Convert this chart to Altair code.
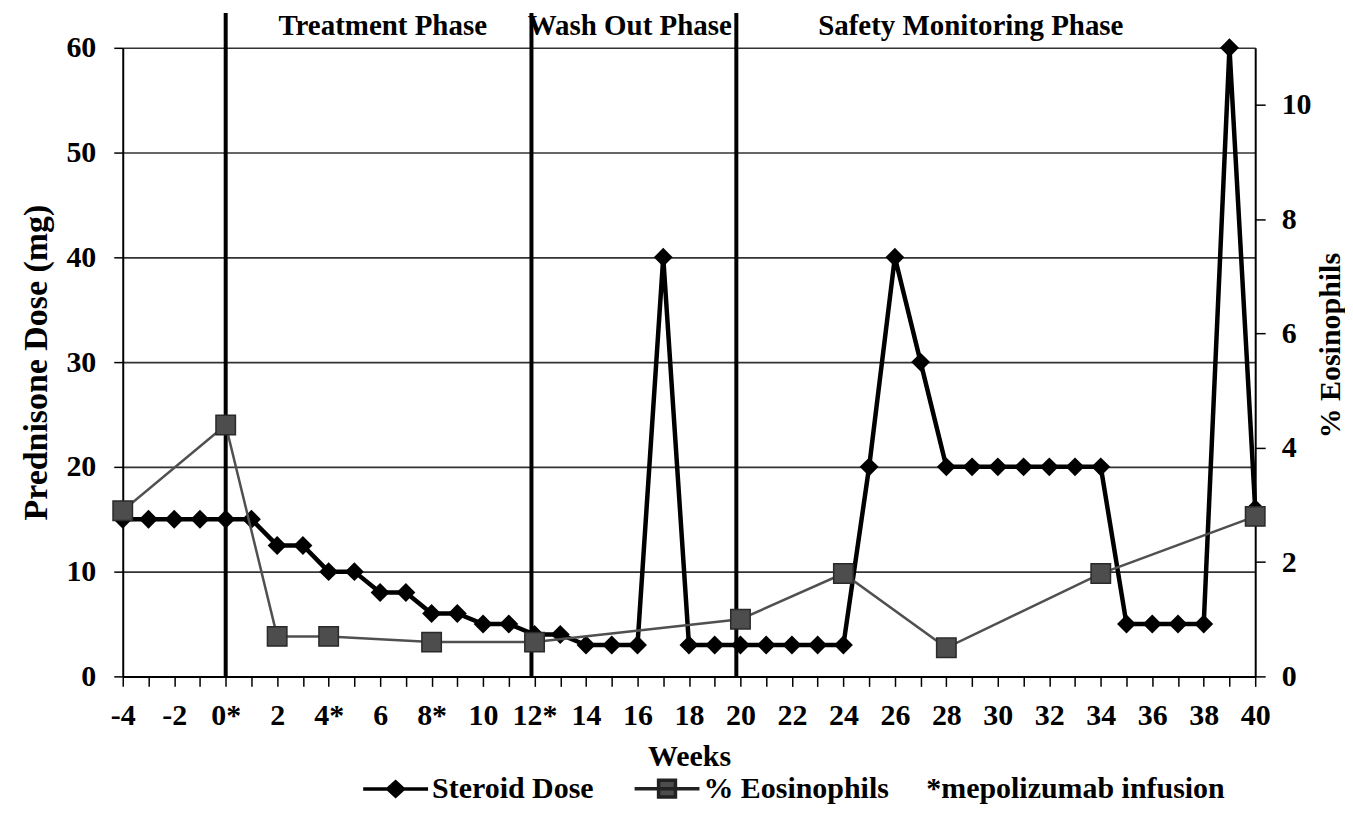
import json
import altair as alt
import pandas as pd

# ---------------- data ----------------
steroid_weeks = [-4, -3, -2, -1, 0, 1, 2, 3, 4, 5, 6, 7, 8, 9, 10, 11, 12, 13, 14, 15, 16,
                 17, 18, 19, 20, 21, 22, 23, 24, 25, 26, 27, 28, 29, 30, 31, 32, 33, 34,
                 35, 36, 37, 38, 39, 40]
steroid_dose = [15, 15, 15, 15, 15, 15, 12.5, 12.5, 10, 10, 8, 8, 6, 6, 5, 5, 4, 4, 3, 3, 3,
                40, 3, 3, 3, 3, 3, 3, 3, 20, 40, 30, 20, 20, 20, 20, 20, 20, 20,
                5, 5, 5, 5, 60, 16]

eos_weeks = [-4, 0, 2, 4, 8, 12, 20, 24, 28, 34, 40]
eos_pct = [2.9, 4.4, 0.7, 0.7, 0.6, 0.6, 1.0, 1.8, 0.5, 1.8, 2.8]

x_tick_weeks = [-4, -3, -2, -1, 0, 1, 2, 3, 4, 5, 6, 7, 8, 9, 10, 11, 12, 13, 14, 15, 16,
                17, 18, 19, 20, 21, 22, 23, 24, 25, 26, 27, 28, 29, 30, 31, 32, 33, 34,
                35, 36, 37, 38, 39, 40]
x_label_weeks = [-4, -2, 0, 2, 4, 6, 8, 10, 12, 14, 16, 18, 20, 22, 24, 26, 28, 30, 32, 34, 36, 38, 40]
x_label_text = ["-4", "-2", "0*", "2", "4*", "6", "8*", "10", "12*", "14", "16", "18", "20",
                "22", "24", "26", "28", "30", "32", "34", "36", "38", "40"]
left_ticks = [0, 10, 20, 30, 40, 50, 60]
right_ticks = [0, 2, 4, 6, 8, 10]

phase_names = ["Treatment Phase", "Wash Out Phase", "Safety Monitoring Phase"]
phase_label_weeks = [6.1, 15.7, 28.95]
phase_boundary_weeks = [0, 11.88, 19.84]

series_names = ["Steroid Dose", "% Eosinophils"]
legend_note = "*mepolizumab infusion"

# ---------------- styling ----------------
FONT = "Liberation Serif"
W, H = 1135, 630

steroid_df = pd.DataFrame({"week": steroid_weeks, "dose": steroid_dose})
eos_df = pd.DataFrame({"week": eos_weeks, "pct": eos_pct})
phase_df = pd.DataFrame({"phase": phase_names, "week": phase_label_weeks})
bound_df = pd.DataFrame({"week": phase_boundary_weeks})
legend_df = pd.DataFrame({"series": series_names})

label_expr = (
    f"indexof({json.dumps(x_label_weeks)}, datum.value) >= 0 ? "
    f"{json.dumps(x_label_text)}[indexof({json.dumps(x_label_weeks)}, datum.value)] : ''"
)

x_enc = alt.X(
    "week:Q",
    scale=alt.Scale(domain=[-4, 40], nice=False, zero=False),
    axis=alt.Axis(
        values=x_tick_weeks, labelExpr=label_expr, title="Weeks", grid=False,
        tickSize=10, tickWidth=1.5, tickColor="black", domainColor="black", domainWidth=2,
        labelPadding=14, labelFontSize=30, titleFontSize=30, titlePadding=11,
        labelOverlap=False, labelFlush=False,
    ),
)

steroid_y = alt.Y(
    "dose:Q",
    scale=alt.Scale(domain=[0, 60], nice=False),
    axis=alt.Axis(
        orient="left", title="Prednisone Dose (mg)", values=left_ticks, format="d",
        grid=True, gridColor="#333333", gridWidth=1.6,
        tickSize=9, tickWidth=1.5, tickColor="black", domainColor="black", domainWidth=2,
        labelPadding=18, labelFontSize=30, titleFontSize=34, titlePadding=12,
    ),
)

eos_y = alt.Y(
    "pct:Q",
    scale=alt.Scale(domain=[0, 11], nice=False),
    axis=alt.Axis(
        orient="right", title="% Eosinophils", values=right_ticks, format="d",
        grid=False, tickSize=10, tickWidth=1.5, tickColor="black",
        domainColor="black", domainWidth=2,
        labelPadding=16, labelFontSize=30, titleFontSize=30, titlePadding=4,
        titleAngle=270, titleBaseline="top", titleY=298,
    ),
)

rules = alt.Chart(bound_df).mark_rule(color="black", strokeWidth=4).encode(
    x=x_enc, y=alt.value(-35), y2=alt.value(H)
)

phase_text = alt.Chart(phase_df).mark_text(
    font=FONT, fontSize=29, fontWeight="bold", color="black", align="center", baseline="middle"
).encode(x=x_enc, y=alt.value(-22), text="phase:N")

steroid_line = alt.Chart(steroid_df).mark_line(color="black", strokeWidth=4.5).encode(x=x_enc, y=steroid_y)
steroid_pts = alt.Chart(steroid_df).mark_point(
    shape="diamond", filled=True, size=360, color="black", opacity=1
).encode(x=x_enc, y=steroid_y)
steroid_layer = alt.layer(steroid_line, steroid_pts)

eos_line = alt.Chart(eos_df).mark_line(color="#505050", strokeWidth=2.5).encode(x=x_enc, y=eos_y)
eos_pts = alt.Chart(eos_df).mark_square(
    size=380, filled=True, color="#4d4d4d", stroke="#2a2a2a", strokeWidth=1.5, opacity=1
).encode(x=x_enc, y=eos_y)
eos_layer = alt.layer(eos_line, eos_pts)

# legend-only layer (no drawn items)
steroid_symbol = "M-1,0L1,0M-0.24,0L0,-0.22L0.24,0L0,0.22Z"
eos_symbol = "M-1,0L1,0M-0.26,-0.26L0.26,-0.26L0.26,0.26L-0.26,0.26Z"
nbsp = "\u00a0" * 5
leg = alt.Legend(
    title=None, orient="none", legendX=239, legendY=708, direction="horizontal",
    symbolSize=4225, symbolStrokeWidth=3.5, symbolOpacity=1,
    labelFont=FONT, labelFontSize=30, labelFontWeight="bold", labelColor="black",
    labelOffset=2, columnPadding=34, labelLimit=900, padding=0,
    labelExpr=f"datum.label == '{series_names[1]}' ? datum.label + '{nbsp}{legend_note}' : datum.label",
)
legend_layer = alt.Chart(legend_df).mark_point(filled=True, opacity=1).encode(
    shape=alt.Shape("series:N", scale=alt.Scale(domain=series_names, range=[steroid_symbol, eos_symbol]), legend=leg),
    fill=alt.Fill("series:N", scale=alt.Scale(domain=series_names, range=["black", "#4d4d4d"]), legend=leg),
    stroke=alt.Stroke("series:N", scale=alt.Scale(domain=series_names, range=["black", "#222222"]), legend=leg),
).transform_filter("false")

chart = alt.layer(
    rules, phase_text, steroid_layer, eos_layer, legend_layer
).resolve_scale(
    y="independent"
).properties(
    width=W, height=H,
    autosize=alt.AutoSizeParams(type="none"),
    padding={"left": 115, "top": 39, "right": 90, "bottom": 130},
    background="white",
).configure_axis(
    labelFont=FONT, titleFont=FONT, labelFontWeight="bold", titleFontWeight="bold",
    labelColor="black", titleColor="black",
).configure_view(stroke="transparent")

chart.save("out.html", embed_options={"renderer": "svg", "actions": False})
